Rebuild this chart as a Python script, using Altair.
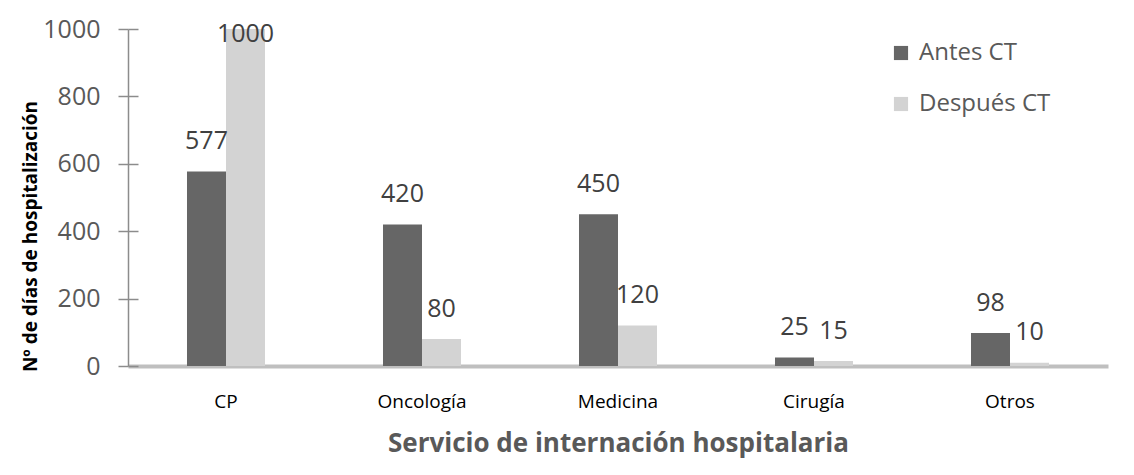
import altair as alt
import pandas as pd

categories = ["CP", "Oncología", "Medicina", "Cirugía", "Otros"]
antes = [577, 420, 450, 25, 98]
despues = [1000, 80, 120, 15, 10]
series = ["Antes CT", "Después CT"]

rows = []
for c, a, d in zip(categories, antes, despues):
    rows.append({"servicio": c, "serie": series[0], "valor": a})
    rows.append({"servicio": c, "serie": series[1], "valor": d})
df = pd.DataFrame(rows)

FONT = "Open Sans"

x = alt.X("servicio:N", sort=categories,
          scale=alt.Scale(paddingInner=0.602, paddingOuter=0.301),
          axis=alt.Axis(title="Servicio de internación hospitalaria", labelAngle=0,
                        domainColor="#bfbfbf", domainWidth=4, ticks=False,
                        labelFont=FONT, labelFontSize=19, labelColor="#000000",
                        labelPadding=26, titleFont=FONT, titleFontSize=26,
                        titleFontWeight="bold", titleColor="#595959", titlePadding=19))
xo = alt.XOffset("serie:N", sort=series, scale=alt.Scale(paddingInner=0, paddingOuter=0))
yscale = alt.Scale(domain=[0, 1000], nice=False)

bars = alt.Chart(df).mark_bar().encode(
    x=x, xOffset=xo,
    y=alt.Y("valor:Q", scale=yscale,
            axis=alt.Axis(title="Nº de días de hospitalización", values=[0, 200, 400, 600, 800, 1000],
                          format="d", grid=False, domainColor="#8c8c8c", domainWidth=1.5,
                          tickColor="#8c8c8c", tickWidth=1.5, tickSize=10,
                          labelFont=FONT, labelFontSize=25, labelColor="#595959", labelPadding=18,
                          titleFont=FONT, titleFontSize=19, titleFontWeight="bold",
                          titleColor="#000000", titleAngle=270, titleX=-88, titleY=207,
                          titleAlign="center", titleBaseline="bottom")),
    color=alt.Color("serie:N", sort=series,
                    scale=alt.Scale(domain=series, range=["#666666", "#d3d3d3"]),
                    legend=alt.Legend(title=None, orient="none", legendX=761, legendY=12,
                                      symbolType="square", symbolSize=200, symbolStrokeWidth=0,
                                      labelFont=FONT, labelFontSize=24, labelColor="#595959",
                                      labelOffset=6, rowPadding=27)),
)

labels = alt.Chart(df).transform_calculate(
    pos="min(datum.valor + 90, 985)"
).mark_text(font=FONT, fontSize=25, color="#404040", baseline="middle").encode(
    x=x, xOffset=xo,
    y=alt.Y("pos:Q", scale=yscale,
            axis=alt.Axis(orient="left", offset=-10, labels=False, domain=False, grid=False,
                          title=None, tickColor="#8c8c8c", tickWidth=1.5, tickSize=10,
                          values=[0, 200, 400, 600, 800, 1000])),
    text="valor:Q",
)

chart = alt.layer(bars, labels).resolve_axis(y="independent").properties(
    width=980, height=337,
    autosize=alt.AutoSizeParams(type="none"),
    padding={"left": 120, "top": 21, "right": 18, "bottom": 100},
).configure_view(stroke=None)

chart.save("out.html", embed_options={"renderer": "svg", "actions": False})
